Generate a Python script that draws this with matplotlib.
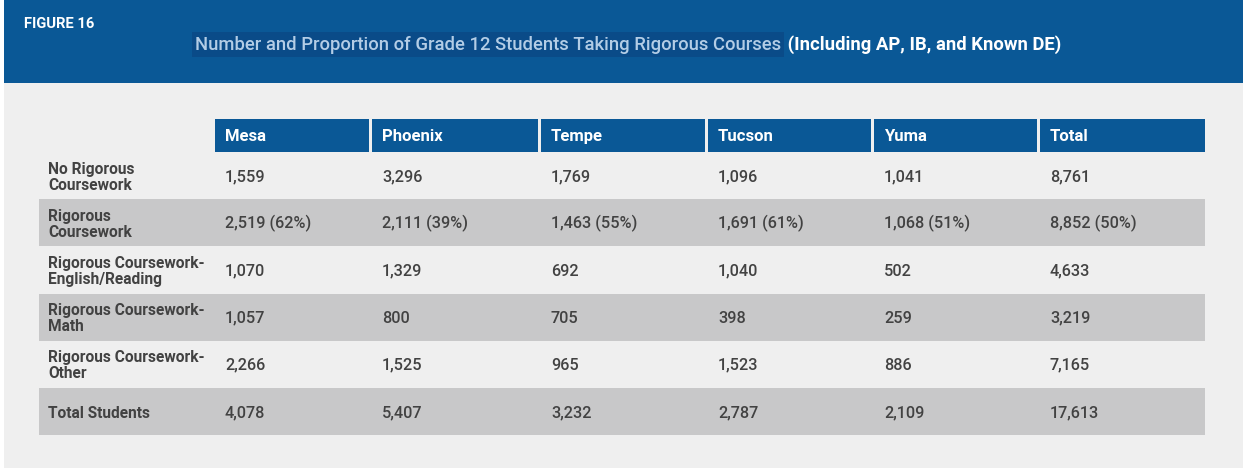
import matplotlib
matplotlib.use("Agg")
import matplotlib.pyplot as plt
from matplotlib.patches import Rectangle

# ---- data ----
columns = ["Mesa", "Phoenix", "Tempe", "Tucson", "Yuma", "Total"]
row_labels = ["No Rigorous\nCoursework", "Rigorous\nCoursework",
              "Rigorous Coursework-\nEnglish/Reading", "Rigorous Coursework-\nMath",
              "Rigorous Coursework-\nOther", "Total Students"]
no_rigorous = ["1,559", "3,296", "1,769", "1,096", "1,041", "8,761"]
rigorous = ["2,519 (62%)", "2,111 (39%)", "1,463 (55%)", "1,691 (61%)", "1,068 (51%)", "8,852 (50%)"]
rig_english = ["1,070", "1,329", "692", "1,040", "502", "4,633"]
rig_math = ["1,057", "800", "705", "398", "259", "3,219"]
rig_other = ["2,266", "1,525", "965", "1,523", "886", "7,165"]
total_students = ["4,078", "5,407", "3,232", "2,787", "2,109", "17,613"]
rows = [no_rigorous, rigorous, rig_english, rig_math, rig_other, total_students]

fig_label = "FIGURE 16"
title_main = "Number and Proportion of Grade 12 Students Taking Rigorous Courses"
title_rest = " (Including AP, IB, and Known DE)"

# ---- style / layout (pixels) ----
W, H = 1243, 473
BLUE = "#0a5896"
LIGHT = "#efefef"
STRIPE = "#c8c8c9"
TXT = "#424242"
FONT = "Roboto"

col_left = [215, 372, 541, 708, 874, 1040]
col_right = [369, 538, 705, 871, 1037, 1205]
head_top, head_bot = 119, 152
row_h = 47.2
table_left = 39

fig = plt.figure(figsize=(W / 100, H / 100), dpi=100)
fig.patch.set_facecolor("white")
ax = fig.add_axes([0, 0, 1, 1])
ax.set_xlim(0, W)
ax.set_ylim(H, 0)
ax.axis("off")

# backgrounds
ax.add_patch(Rectangle((4, 0), W - 4, 83, color=BLUE, lw=0))
ax.add_patch(Rectangle((4, 83), W - 4, 385, color=LIGHT, lw=0))

# title texts
ax.text(24, 24, fig_label, color="white", fontsize=10.6, fontweight="bold",
        family=FONT, va="center", ha="left")
t1 = ax.text(195, 44.5, title_main, color="#b3cde6", fontsize=13.3, fontweight="medium",
             family=FONT, va="center", ha="left",
             bbox=dict(boxstyle="square,pad=0.18", fc="#0a4b88", ec="none"))
ax.annotate(title_rest, xy=(1, 0.5), xycoords=t1, xytext=(1, 0), textcoords="offset points",
            color="white", fontsize=13.3, fontweight="bold", family=FONT,
            va="center", ha="left")

# header cells
for name, l, r in zip(columns, col_left, col_right):
    ax.add_patch(Rectangle((l, head_top), r - l, head_bot - head_top, color=BLUE, lw=0))
    ax.text(l + 10, (head_top + head_bot) / 2 + 1, name, color="white", fontsize=12,
            fontweight="bold", family=FONT, va="center", ha="left")

# body rows
for i, (lab, vals) in enumerate(zip(row_labels, rows)):
    y0 = head_bot + i * row_h
    if i % 2 == 1:
        ax.add_patch(Rectangle((table_left, y0), col_right[-1] - table_left, row_h,
                               color=STRIPE, lw=0))
    yc = y0 + row_h / 2
    ax.text(48, yc + 1.5, lab, color=TXT, fontsize=11.2, fontweight="bold", family=FONT,
            va="center", ha="left", linespacing=1.08)
    for v, l in zip(vals, col_left):
        ax.text(l + 10, yc + 1, v, color=TXT, fontsize=11.7, fontweight="medium",
                family=FONT, va="center", ha="left")

fig.savefig("out.png", dpi=100, facecolor=fig.get_facecolor())
